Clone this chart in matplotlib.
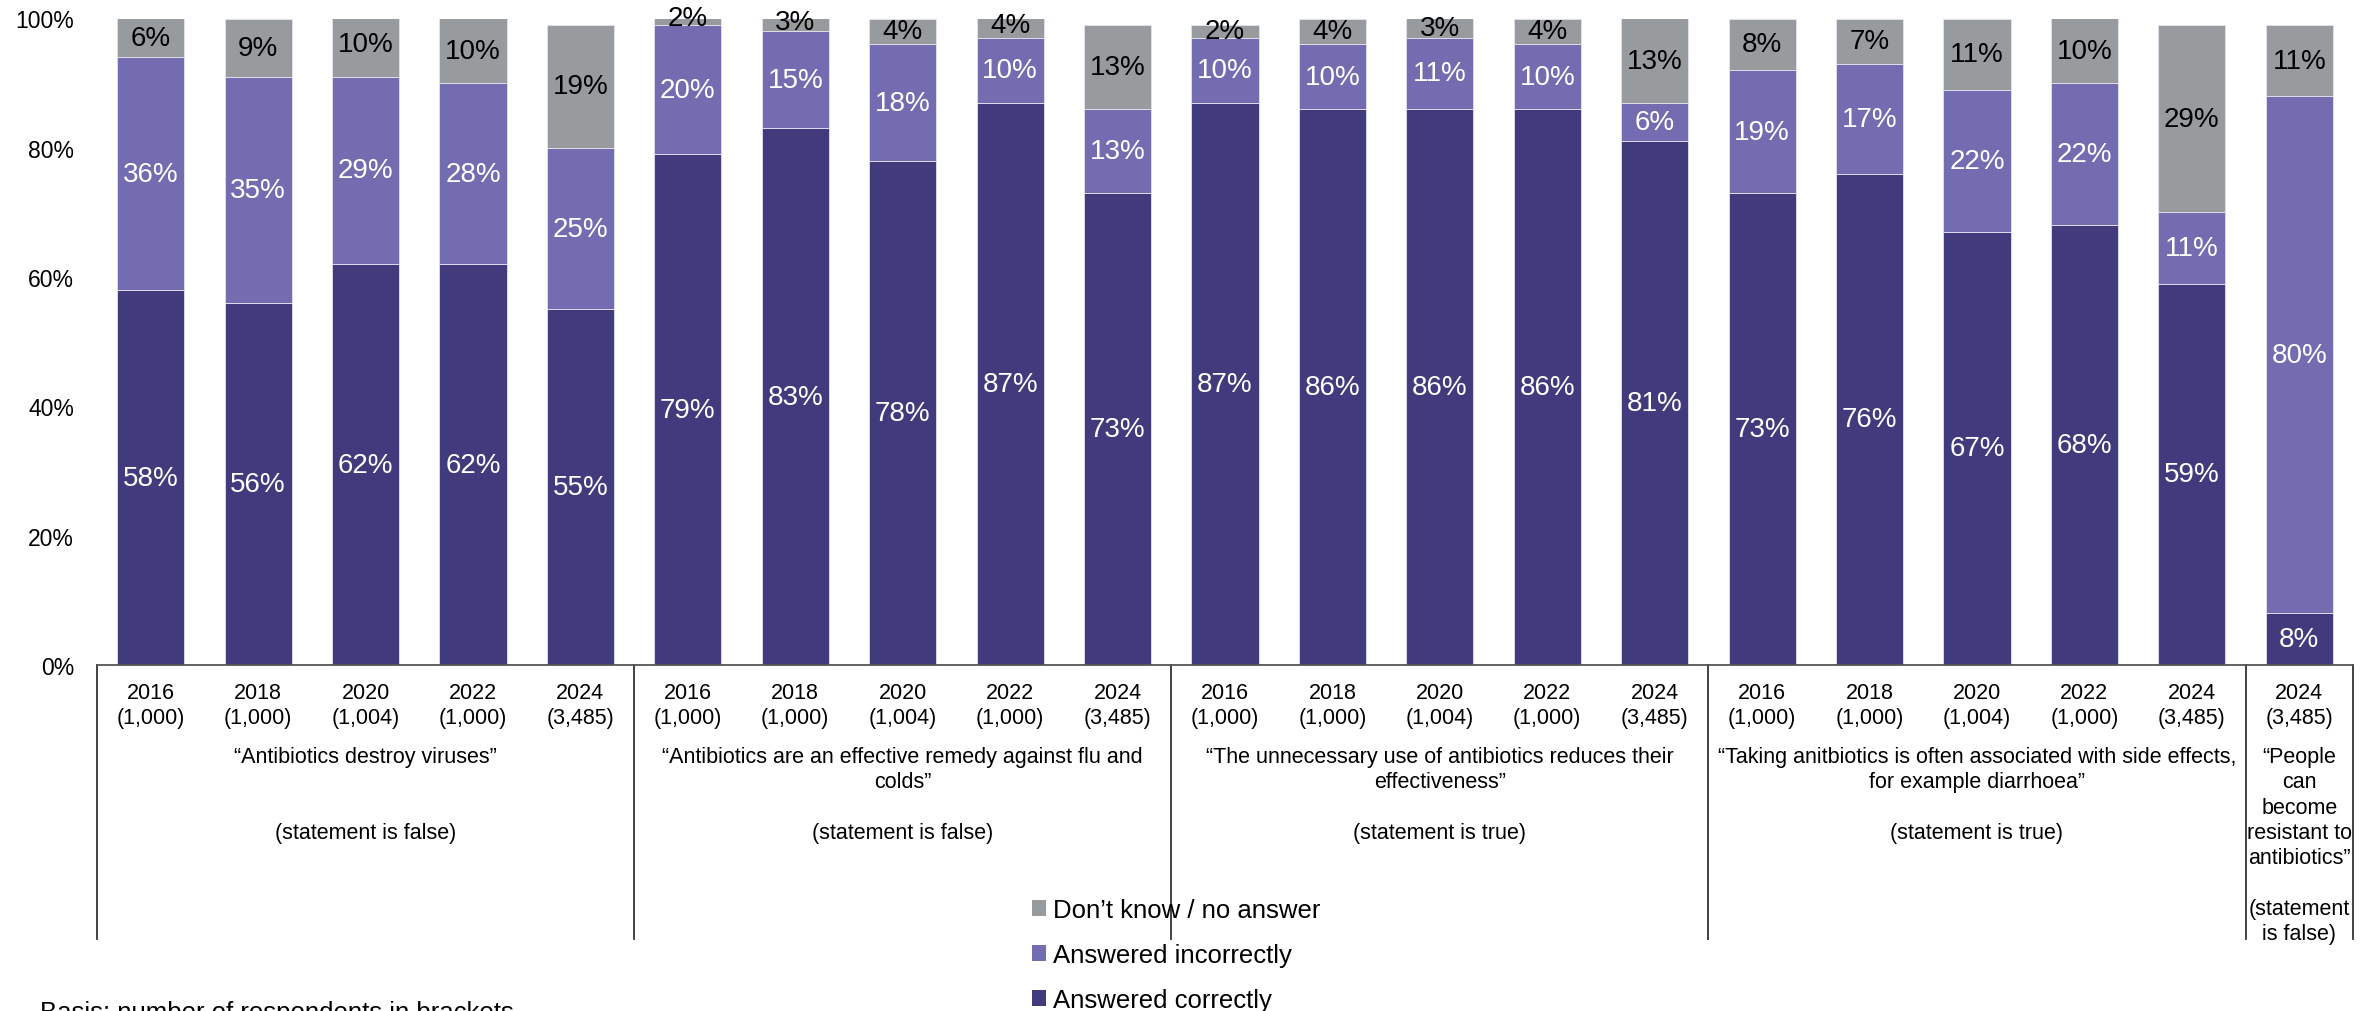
import numpy as np
import matplotlib
matplotlib.use("Agg")
import matplotlib.pyplot as plt
from matplotlib.patches import Patch

plt.rcParams['font.family'] = ['Liberation Sans', 'DejaVu Sans']

# survey waves per statement
years = ["2016", "2018", "2020", "2022", "2024"] * 4 + ["2024"]
respondents = ["1,000", "1,000", "1,004", "1,000", "3,485"] * 4 + ["3,485"]

correct = [58, 56, 62, 62, 55,
           79, 83, 78, 87, 73,
           87, 86, 86, 86, 81,
           73, 76, 67, 68, 59,
           8]
incorrect = [36, 35, 29, 28, 25,
             20, 15, 18, 10, 13,
             10, 10, 11, 10, 6,
             19, 17, 22, 22, 11,
             80]
dont_know = [6, 9, 10, 10, 19,
             2, 3, 4, 4, 13,
             2, 4, 3, 4, 13,
             8, 7, 11, 10, 29,
             11]

statements = [
    "\u201cAntibiotics destroy viruses\u201d\n\n\n(statement is false)",
    "\u201cAntibiotics are an effective remedy against flu and\ncolds\u201d\n\n(statement is false)",
    "\u201cThe unnecessary use of antibiotics reduces their\neffectiveness\u201d\n\n(statement is true)",
    "\u201cTaking anitbiotics is often associated with side effects,\nfor example diarrhoea\u201d\n\n(statement is true)",
    "\u201cPeople\ncan\nbecome\nresistant to\nantibiotics\u201d\n\n(statement\nis false)",
]
group_sizes = [5, 5, 5, 5, 1]

col_correct = "#413A7C"
col_incorrect = "#746CB0"
col_dk = "#989B9E"

fig = plt.figure(figsize=(23.79, 10.12), dpi=100)
ax = fig.add_axes([97 / 2379, 1 - 666 / 1012, (2353 - 97) / 2379, (666 - 19.5) / 1012])

x = np.arange(len(years))
w = 0.624
correct = np.array(correct)
incorrect = np.array(incorrect)
dont_know = np.array(dont_know)

ax.bar(x, correct, w, color=col_correct, edgecolor="#e4e2f0", linewidth=0.6)
ax.bar(x, incorrect, w, bottom=correct, color=col_incorrect, edgecolor="#e4e2f0", linewidth=0.6)
ax.bar(x, dont_know, w, bottom=correct + incorrect, color=col_dk, edgecolor="#e4e2f0", linewidth=0.6)

# value labels in the middle of each segment
for i in range(len(x)):
    ax.text(x[i], correct[i] / 2, f"{correct[i]}%", ha="center", va="center",
            color="white", fontsize=20)
    ax.text(x[i], correct[i] + incorrect[i] / 2, f"{incorrect[i]}%", ha="center", va="center",
            color="white", fontsize=20)
    ax.text(x[i], correct[i] + incorrect[i] + dont_know[i] / 2, f"{dont_know[i]}%",
            ha="center", va="center", color="black", fontsize=20, clip_on=False)

ax.set_xlim(-0.5, len(x) - 0.5)
ax.set_ylim(0, 100)
ax.set_yticks(range(0, 101, 20))
ax.set_yticklabels([f"{v}%" for v in range(0, 101, 20)], fontsize=16.5)
ax.set_xticks(x)
ax.set_xticklabels([f"{y}\n({n})" for y, n in zip(years, respondents)], fontsize=15.5,
                   linespacing=1.27)
ax.tick_params(axis="y", length=0, pad=16.5)
ax.tick_params(axis="x", length=0, pad=12)
for s in ["top", "right", "left"]:
    ax.spines[s].set_visible(False)
ax.spines["bottom"].set_color("#555555")
ax.spines["bottom"].set_linewidth(1.3)

# group separators and statement texts under the axis
trans = ax.get_xaxis_transform()
bottom_y = (666 - 940) / (666 - 19.5)
edges = np.concatenate([[0], np.cumsum(group_sizes)]) - 0.5
for e in edges:
    ax.plot([e, e], [0, bottom_y], color="#333333", linewidth=1.3, transform=trans,
            clip_on=False)
text_y = (666 - 747) / (666 - 19.5)
for k, txt in enumerate(statements):
    cx = (edges[k] + edges[k + 1]) / 2
    ax.text(cx, text_y, txt, ha="center", va="top", fontsize=15.5, linespacing=1.27,
            transform=trans)

handles = [Patch(facecolor=col_dk), Patch(facecolor=col_incorrect), Patch(facecolor=col_correct)]
labels = ["Don\u2019t know / no answer", "Answered incorrectly", "Answered correctly"]
fig.legend(handles, labels, loc="upper left", bbox_to_anchor=(1032 / 2379, 1 - 899 / 1012),
           frameon=False, fontsize=18.5, handlelength=0.56, handleheight=0.56,
           handletextpad=0.25, labelspacing=0.82, borderpad=0, borderaxespad=0)

fig.text(40 / 2379, 1 - 1001 / 1012, "Basis: number of respondents in brackets",
         ha="left", va="top", fontsize=18.5)

fig.savefig("out.png", dpi=100)
